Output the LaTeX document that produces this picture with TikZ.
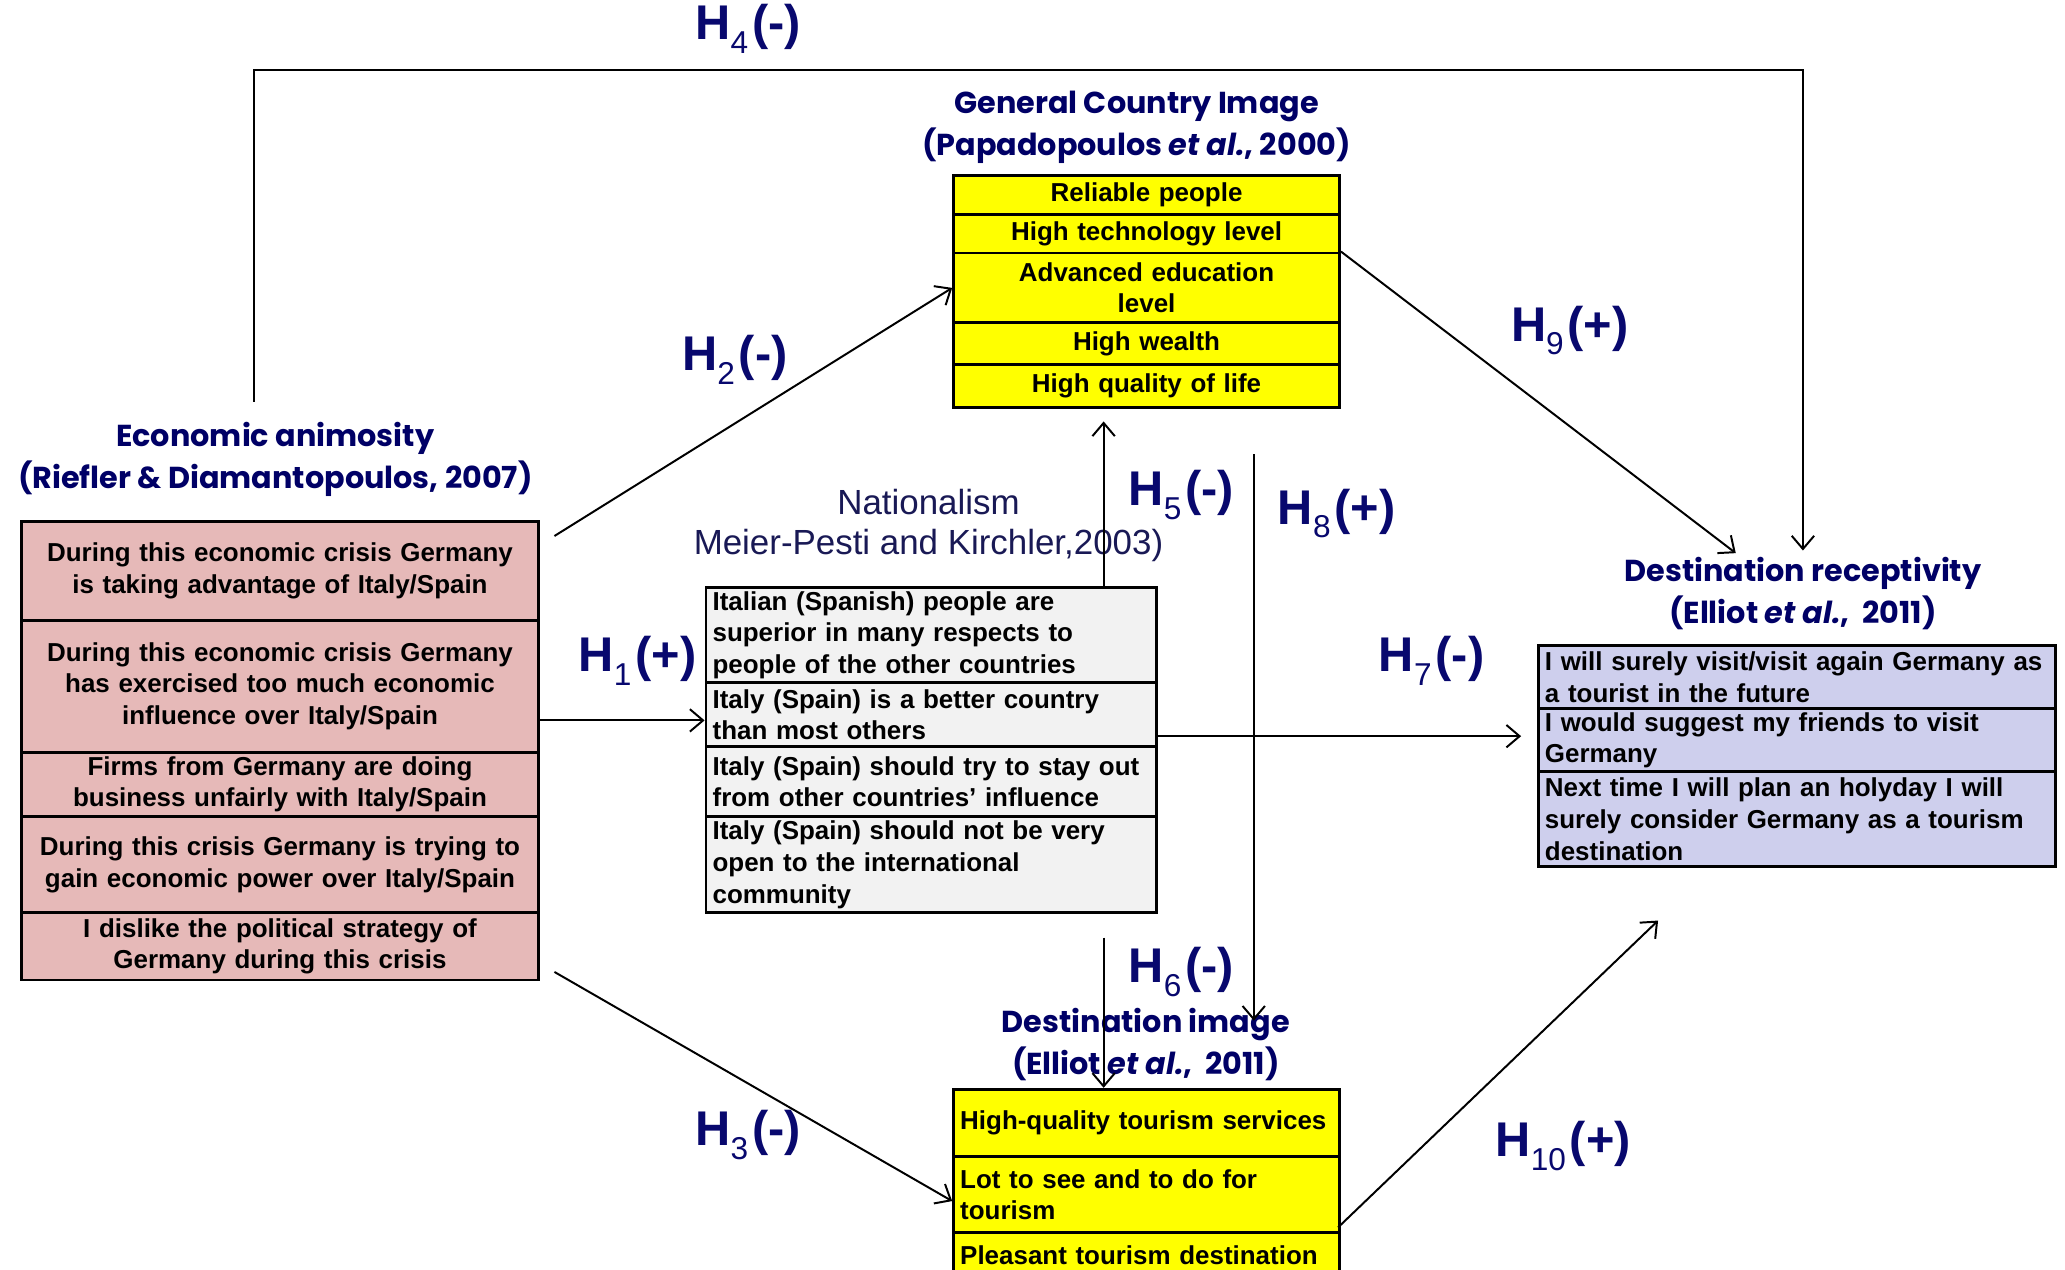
\documentclass[tikz,border=0pt]{standalone}
\usepackage{fontspec}
\setmainfont{Liberation Sans}
\newfontfamily\titlefont{Poppins}
\usetikzlibrary{arrows.meta}
\definecolor{navy}{RGB}{0,0,102}
\definecolor{hnavy}{RGB}{8,8,110}
\definecolor{natnavy}{RGB}{25,25,85}
\definecolor{pinkc}{RGB}{230,185,184}
\definecolor{yelc}{RGB}{255,255,0}
\definecolor{grayc}{RGB}{242,242,242}
\definecolor{lavc}{RGB}{206,207,237}
\newcommand\hlab[2]{H\raisebox{-0.28em}{\fontsize{24}{24}\mdseries\selectfont #1}\hspace{3pt}(#2)}
\tikzset{
  cell/.style={draw=black, line width=2.2pt, inner xsep=5pt, inner ysep=0pt, anchor=north west,
    font=\fontsize{19.7}{24}\selectfont\bfseries},
  ttl/.style={text=navy, align=center, font=\titlefont\fontsize{23}{32}\selectfont\bfseries},
  hl/.style={text=hnavy, font=\fontsize{37}{40}\selectfont\bfseries},
  arr/.style={line width=1.5pt, -{Straight Barb[length=10pt,width=17pt,line width=1.5pt]}},
  ln/.style={line width=1.5pt}
}
\begin{document}
\begin{tikzpicture}[x=1pt,y=-1pt]
\useasboundingbox (0,0) rectangle (1568,964);
\clip (0,0) rectangle (1568,964);
\fill[white] (0,0) rectangle (1568,964);

% ---------- Economic animosity ----------
\node[ttl] (tanim) at (209,349) {Economic animosity\\(Riefler \& Diamantopoulos, 2007)};
\node[cell, fill=pinkc, text width=383pt, minimum height=75pt, align=center] (a1) at (15,395)
  {During this economic crisis Germany\\is taking advantage of Italy/Spain};
\node[cell, fill=pinkc, text width=383pt, minimum height=100pt, align=center] (a2) at (15,470)
  {During this economic crisis Germany\\has exercised too much economic\\influence over Italy/Spain};
\node[cell, fill=pinkc, text width=383pt, minimum height=49pt, align=center] (a3) at (15,570)
  {Firms from Germany are doing\\business unfairly with Italy/Spain};
\node[cell, fill=pinkc, text width=383pt, minimum height=73pt, align=center] (a4) at (15,619)
  {\mbox{During this crisis Germany is trying to}\\gain economic power over Italy/Spain};
\node[cell, fill=pinkc, text width=383pt, minimum height=51pt, align=center] (a5) at (15,692)
  {I dislike the political strategy of\\Germany during this crisis};

% ---------- General Country Image ----------
\node[ttl] (tgci) at (863,97) {General Country Image\\(Papadopoulos {\itshape et al.}, 2000)};
\node[cell, fill=yelc, text width=283pt, minimum height=30pt, align=center] (g1) at (723,132) {Reliable people};
\node[cell, fill=yelc, text width=283pt, minimum height=29pt, align=center] (g2) at (723,162) {High technology level};
\node[cell, fill=yelc, text width=283pt, minimum height=53pt, align=center] (g3) at (723,191) {Advanced education\\level};
\node[cell, fill=yelc, text width=283pt, minimum height=32pt, align=center] (g4) at (723,244) {High wealth};
\node[cell, fill=yelc, text width=283pt, minimum height=32pt, align=center] (g5) at (723,276) {High quality of life};

% ---------- Nationalism ----------
\node[text=natnavy, align=center, font=\fontsize{26.5}{31}\selectfont] (tnat) at (705,399)
  {Nationalism\\Meier-Pesti and Kirchler,2003)};
\node[cell, fill=grayc, text width=332pt, minimum height=72pt, align=left] (n1) at (535,445)
  {Italian (Spanish) people are\\superior in many respects to\\people of the other countries};
\node[cell, fill=grayc, text width=332pt, minimum height=49pt, align=left] (n2) at (535,517)
  {Italy (Spain) is a better country\\than most others};
\node[cell, fill=grayc, text width=332pt, minimum height=53pt, align=left] (n3) at (535,566)
  {\mbox{Italy (Spain) should try to stay out}\\\mbox{from other countries’ influence}};
\node[cell, fill=grayc, text width=332pt, minimum height=73pt, align=left] (n4) at (535,619)
  {Italy (Spain) should not be very\\open to the international\\community};

% ---------- Destination receptivity ----------
\node[ttl] (tdr) at (1369,451) {Destination receptivity\\(Elliot {\itshape et al.},\ \ 2011)};
\node[cell, fill=lavc, text width=383pt, minimum height=48pt, align=left] (r1) at (1167,489)
  {\mbox{I will surely visit/visit again Germany as}\\a tourist in the future};
\node[cell, fill=lavc, text width=383pt, minimum height=48pt, align=left] (r2) at (1167,537)
  {I would suggest my friends to visit\\Germany};
\node[cell, fill=lavc, text width=383pt, minimum height=72pt, align=left] (r3) at (1167,585)
  {\mbox{Next time I will plan an holyday I will}\\\mbox{surely consider Germany as a tourism}\\destination};

% ---------- Destination image ----------
\node[ttl] (tdi) at (870,793) {Destination image\\(Elliot {\itshape et al.},\ \ 2011)};
\node[cell, fill=yelc, text width=283pt, minimum height=51pt, align=left] (d1) at (723,826) {\mbox{High-quality tourism services}};
\node[cell, fill=yelc, text width=283pt, minimum height=58pt, align=left] (d2) at (723,877) {Lot to see and to do for\\tourism};
\node[cell, fill=yelc, text width=283pt, minimum height=40pt, align=left, text depth=0pt] (d3) at (723,935) {\raisebox{-4pt}[0pt][0pt]{\mbox{Pleasant tourism destination}}\\[10pt]};

% ---------- hypothesis labels ----------
\node[hl] (l4) at (568,22) {\hlab{4}{-}};
\node[hl] (l2) at (558,273) {\hlab{2}{-}};
\node[hl] (l9) at (1192,251) {\hlab{9}{+}};
\node[hl] (l5) at (897,376) {\hlab{5}{-}};
\node[hl] (l8) at (1015,390) {\hlab{8}{+}};
\node[hl] (l1) at (484,502) {\hlab{1}{+}};
\node[hl] (l7) at (1087,502) {\hlab{7}{-}};
\node[hl] (l3) at (568,862) {\hlab{3}{-}};
\node[hl] (l6) at (897,738) {\hlab{6}{-}};
\node[hl] (l10) at (1187,870) {\hlab{10}{+}};

% ---------- connectors ----------
\coordinate (h4s) at (193,305);
\coordinate (h4e) at (1369,418);
\draw[arr] (h4s) -- (193,53) -| (h4e);

\coordinate (h2s) at (421,407);
\draw[arr] (h2s) -- (g3.west);

\coordinate (h9e) at (1318,420);
\draw[arr] (g3.north east) -- (h9e);

\coordinate (h5e) at (838,320);
\draw[arr] (n1.north -| h5e) -- (h5e);

\coordinate (h8s) at (952,345);
\coordinate (h8e) at (952,775);
\draw[arr] (h8s) -- (h8e);

\coordinate (h1y) at (0,547);
\draw[arr] (a2.east |- h1y) -- (n2.west |- h1y);

\coordinate (h7e) at (1155,559);
\draw[arr] (n2.east |- h7e) -- (h7e);

\coordinate (h3s) at (421,738);
\coordinate (h3y) at (0,912);
\draw[arr] (h3s) -- (d2.west |- h3y);

\coordinate (h6s) at (838,712);
\draw[arr] (h6s) -- (d1.north -| h6s);

\coordinate (h10s) at (1016,932);
\coordinate (h10e) at (1259,699);
\draw[arr] (h10s) -- (h10e);
\end{tikzpicture}
\end{document}
